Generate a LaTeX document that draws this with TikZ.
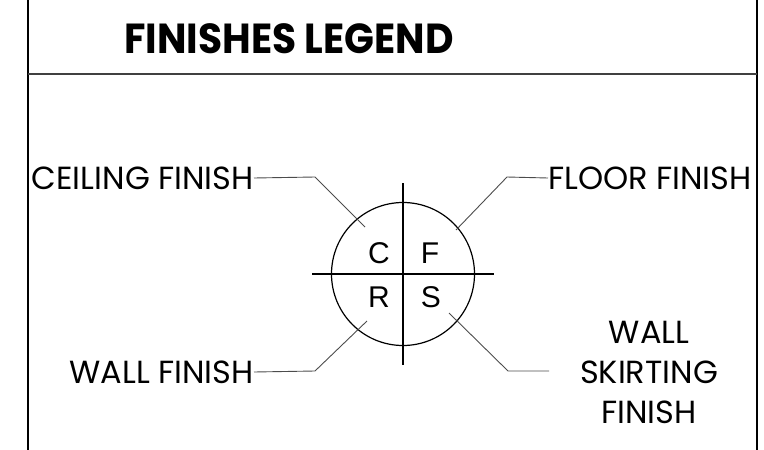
\documentclass[tikz,border=0pt]{standalone}
\usepackage{fontspec}
\setmainfont{Poppins}
\newfontfamily\quadfont{Liberation Sans}
\usetikzlibrary{positioning}
\tikzset{
	legendtext/.style={inner sep=0pt, font=\fontsize{32}{40}\selectfont},
	titletext/.style={inner sep=0pt, font=\bfseries\fontsize{40}{40}\selectfont},
	quadletter/.style={inner sep=0pt, font=\quadfont\fontsize{30}{30}\selectfont},
	leader/.style={draw=black!70, line width=0.9pt},
	frame/.style={line width=1.6pt}
}

\begin{document}
\begin{tikzpicture}[x=1pt,y=-1pt]
	\useasboundingbox (0,0) rectangle (764,450);

	% Draw the frame
	\draw[frame] (28,0) -- (28,450);
	\draw[frame] (757,0) -- (757,450);
	\draw[frame, black!75] (28,74) -- (757,74);

	% Title
	\node[titletext] (title) at (289,39) {\scalebox{0.98}[1.05]{FINISHES LEGEND}};

	% Draw the circle and the cross
	\coordinate (centre) at (403,274);
	\draw[line width=1.2pt] (centre) circle (71.5);
	\draw[line width=1.2pt] (403,183) -- (403,365);
	\draw[line width=1.2pt] (312,274) -- (494,274);

	% Letters in the quarters
	\node[quadletter] (c) at (379,253) {C};
	\node[quadletter] (f) at (430,253) {F};
	\node[quadletter] (r) at (379,297) {R};
	\node[quadletter] (s) at (431,297) {S};

	% Labels
	\node[legendtext, anchor=east] (ceiling) at (254,178) {CEILING FINISH};
	\node[legendtext, anchor=west] (floor) at (548,178) {FLOOR FINISH};
	\node[legendtext, anchor=east] (wall) at (254,372) {WALL FINISH};
	\node[legendtext, align=center] (skirting) at (649,372) {WALL\\SKIRTING\\FINISH};

	% Leader lines
	\coordinate (ceilingknee) at (315,177);
	\coordinate (ceilingtip) at (365,227);
	\coordinate (floorknee) at (507,177);
	\coordinate (floortip) at (456,230);
	\coordinate (wallknee) at (315,371);
	\coordinate (walltip) at (367,321);
	\coordinate (skirtingend) at (549,371);
	\coordinate (skirtingknee) at (508,371);
	\coordinate (skirtingtip) at (449,313);
	\draw[leader] (ceiling.east) -- (ceilingknee) -- (ceilingtip);
	\draw[leader] (floor.west) -- (floorknee) -- (floortip);
	\draw[leader] (wall.east) -- (wallknee) -- (walltip);
	\draw[leader] (skirtingend) -- (skirtingknee) -- (skirtingtip);
\end{tikzpicture}
\end{document}
